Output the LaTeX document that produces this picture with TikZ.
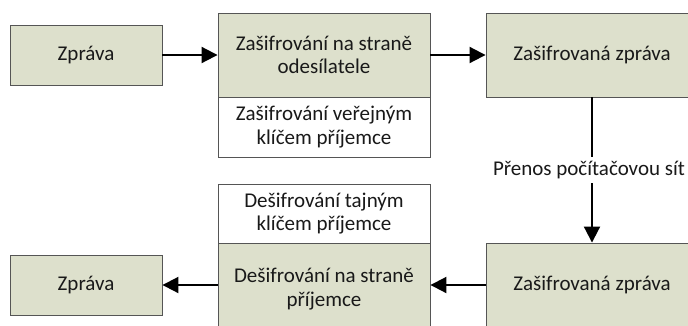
\documentclass[tikz,border=0pt]{standalone}
\usepackage{fontspec}
\setmainfont{Carlito}
\usetikzlibrary{arrows.meta}
\definecolor{boxgreen}{RGB}{221,224,204}
\definecolor{boxline}{RGB}{85,85,85}
\begin{document}
\begin{tikzpicture}[x=1pt,y=-1pt,
  every node/.style={font=\fontsize{21}{23.5}\selectfont, text=black!90, align=center, inner sep=0pt},
  gbox/.style={draw=boxline, line width=0.9pt, fill=boxgreen, rectangle},
  wbox/.style={draw=boxline, line width=0.9pt, fill=white, rectangle},
  arr/.style={line width=2pt, -{Triangle[length=16pt,width=16pt]}}]
\clip (0,0) rectangle (688,325);
\fill[white] (0,0) rectangle (688,325);
% top row
\node[gbox, minimum width=152pt, minimum height=60pt] (z1) at (86,55) {Zpráva};
\node[gbox, minimum width=212pt, minimum height=84pt] (e1) at (324,55) {Zašifrování na straně\\odesílatele};
\node[wbox, minimum width=212pt, minimum height=60pt] (e1k) at (324,127) {Zašifrování veřejným\\klíčem příjemce};
\node[gbox, minimum width=212pt, minimum height=84pt] (c1) at (592,55) {Zašifrovaná zpráva};
% bottom row
\node[gbox, minimum width=212pt, minimum height=84pt] (c2) at (592,285) {Zašifrovaná zpráva};
\node[gbox, minimum width=212pt, minimum height=92pt] (d1) at (324,289) {Dešifrování na straně\\příjemce};
\node[wbox, minimum width=212pt, minimum height=59pt] (d1k) at (324,213.5) {Dešifrování tajným\\klíčem příjemce};
\node[gbox, minimum width=152pt, minimum height=60pt] (z2) at (86,285) {Zpráva};
% connectors
\draw[arr] (z1.east) -- (e1.west);
\draw[arr] (e1.east) -- (c1.west);
\draw[arr] (c1.south) -- node[fill=white, anchor=west, inner ysep=4pt, inner xsep=0pt, xshift=-100pt] (lbl) {Přenos počítačovou sít} (c2.north);
\draw[arr] (c2.west) -- (d1.east |- c2.west);
\draw[arr] (d1.west |- z2.east) -- (z2.east);
\end{tikzpicture}
\end{document}
